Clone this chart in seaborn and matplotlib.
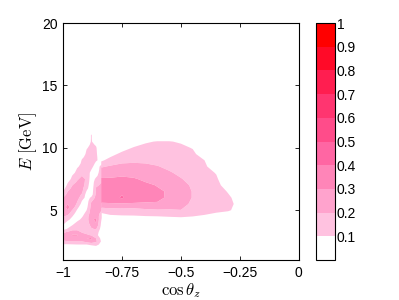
import numpy as np
import matplotlib
matplotlib.use("Agg")
import matplotlib.pyplot as plt
import matplotlib.colors as mcolors
import matplotlib.cm as cm
import seaborn as sns

# probability levels and colours (0-0.1 is left white)
levels = [0, 0.1, 0.2, 0.3, 0.4, 0.5, 0.6, 0.7, 0.8, 0.9, 1.0]
level_colors = ["#FFFFFF", "#FFC2E0", "#FFA3CD", "#FF85B8", "#FF66A3",
                "#FF4C8A", "#FF3570", "#FF1E50", "#FF0A28", "#FF0000"]

# left part (thin band, gap, foot and neck): one list per cos(theta) column,
# values along E = 2.0, 2.25, ..., 11.75
x_left = [-1.0, -0.98, -0.96, -0.94, -0.92, -0.90, -0.88, -0.86, -0.836]
y_left = [2.0, 2.25, 2.5, 2.75, 3.0, 3.25, 3.5, 3.75, 4.0, 4.25, 4.5, 4.75,
          5.0, 5.25, 5.5, 5.75, 6.0, 6.25, 6.5, 6.75, 7.0, 7.25, 7.5, 7.75,
          8.0, 8.25, 8.5, 8.75, 9.0, 9.25, 9.5, 9.75, 10.0, 10.25, 10.5,
          10.75, 11.0, 11.25, 11.5, 11.75]
col_m100 = [0.02, 0.09, 0.19, 0.22, 0.22, 0.18, 0.06, 0.09, 0.13, 0.17, 0.21,
            0.25, 0.28, 0.27, 0.25, 0.23, 0.20, 0.15, 0.10, 0.05, 0.0] + [0.0] * 19
col_m098 = [0.02, 0.09, 0.20, 0.24, 0.25, 0.21, 0.11, 0.06, 0.07, 0.12, 0.17,
            0.24, 0.30, 0.32, 0.30, 0.27, 0.25, 0.23, 0.20, 0.17, 0.13, 0.09,
            0.03, 0.0] + [0.0] * 16
col_m096 = [0.03, 0.095, 0.20, 0.26, 0.31, 0.25, 0.16, 0.11, 0.06, 0.07, 0.10,
            0.14, 0.19, 0.26, 0.29, 0.28, 0.26, 0.25, 0.23, 0.22, 0.20, 0.17,
            0.14, 0.11, 0.06, 0.0] + [0.0] * 14
col_m094 = [0.03, 0.10, 0.20, 0.26, 0.31, 0.24, 0.17, 0.14, 0.12, 0.07, 0.05,
            0.06, 0.09, 0.13, 0.18, 0.21, 0.23, 0.24, 0.25, 0.24, 0.23, 0.21,
            0.19, 0.16, 0.14, 0.12, 0.08, 0.03, 0.0] + [0.0] * 11
col_m092 = [0.03, 0.10, 0.20, 0.23, 0.24, 0.19, 0.15, 0.14, 0.14, 0.12, 0.09,
            0.06, 0.04, 0.04, 0.07, 0.10, 0.16, 0.19, 0.22, 0.23, 0.24, 0.23,
            0.22, 0.20, 0.17, 0.155, 0.14, 0.125, 0.11, 0.08, 0.04, 0.0] + [0.0] * 8
col_m090 = [0.03, 0.10, 0.24, 0.30, 0.22, 0.16, 0.14, 0.14, 0.15, 0.15, 0.15,
            0.13, 0.10, 0.07, 0.05, 0.04, 0.05, 0.06, 0.09, 0.13, 0.16, 0.18,
            0.19, 0.19, 0.18, 0.17, 0.16, 0.15, 0.14, 0.13, 0.12, 0.11, 0.09,
            0.06, 0.02, 0.0] + [0.0] * 4
col_m088 = [0.04, 0.12, 0.28, 0.31, 0.19, 0.16, 0.19, 0.22, 0.26, 0.29, 0.28,
            0.25, 0.24, 0.23, 0.22, 0.19, 0.12, 0.05, 0.04, 0.03, 0.02, 0.03,
            0.04, 0.05, 0.06, 0.10, 0.13, 0.15, 0.16, 0.15, 0.15, 0.14, 0.13,
            0.12, 0.11, 0.11, 0.11, 0.08, 0.0, 0.0]
col_m086 = [0.05, 0.14, 0.22, 0.20, 0.13, 0.15, 0.21, 0.27, 0.30, 0.31, 0.29,
            0.27, 0.26, 0.25, 0.24, 0.23, 0.23, 0.22, 0.21, 0.205, 0.19, 0.16,
            0.12, 0.08, 0.06, 0.05, 0.05, 0.08, 0.11, 0.12, 0.12, 0.115, 0.11,
            0.09, 0.04, 0.0] + [0.0] * 4
col_m0836 = [0.02, 0.06, 0.08, 0.06, 0.04, 0.04, 0.05, 0.06, 0.07, 0.09, 0.11,
             0.16, 0.20, 0.22, 0.23, 0.24, 0.24, 0.24, 0.23, 0.22, 0.21, 0.20,
             0.18, 0.16, 0.15, 0.14, 0.13, 0.09, 0.07, 0.03] + [0.0] * 10
p_left_cols = [col_m100, col_m098, col_m096, col_m094, col_m092,
               col_m090, col_m088, col_m086, col_m0836]

# right part (the big lobe), one row per energy
x_right = [-0.838, -0.8, -0.75, -0.7, -0.65, -0.6, -0.55, -0.5,
           -0.45, -0.4, -0.35, -0.3, -0.25, -0.2]
y_right = [4.0, 4.5, 5.0, 5.5, 6.0, 6.5, 7.0, 7.5, 8.0, 8.5, 9.0, 9.5,
           10.0, 10.5, 11.0, 11.5]
p_right = [
    [0.00, 0.00, 0.00, 0.00, 0.01, 0.02, 0.02, 0.03, 0.02, 0.01, 0.00, 0.00, 0.00, 0.00],
    [0.05, 0.08, 0.09, 0.09, 0.095, 0.098, 0.105, 0.11, 0.10, 0.09, 0.07, 0.05, 0.02, 0.00],
    [0.14, 0.16, 0.15, 0.16, 0.18, 0.19, 0.19, 0.198, 0.15, 0.13, 0.12, 0.11, 0.07, 0.00],
    [0.29, 0.29, 0.29, 0.29, 0.29, 0.29, 0.26, 0.235, 0.18, 0.15, 0.135, 0.118, 0.08, 0.00],
    [0.34, 0.36, 0.41, 0.35, 0.33, 0.32, 0.285, 0.25, 0.195, 0.16, 0.14, 0.112, 0.07, 0.00],
    [0.35, 0.37, 0.385, 0.37, 0.34, 0.315, 0.29, 0.25, 0.195, 0.16, 0.135, 0.095, 0.05, 0.00],
    [0.33, 0.35, 0.36, 0.35, 0.32, 0.295, 0.275, 0.235, 0.185, 0.155, 0.125, 0.06, 0.02, 0.00],
    [0.31, 0.31, 0.32, 0.31, 0.28, 0.26, 0.245, 0.205, 0.17, 0.145, 0.112, 0.03, 0.00, 0.00],
    [0.25, 0.26, 0.27, 0.26, 0.25, 0.235, 0.21, 0.18, 0.155, 0.13, 0.095, 0.00, 0.00, 0.00],
    [0.19, 0.21, 0.23, 0.23, 0.22, 0.205, 0.18, 0.16, 0.14, 0.115, 0.05, 0.00, 0.00, 0.00],
    [0.08, 0.14, 0.17, 0.18, 0.18, 0.17, 0.16, 0.145, 0.13, 0.10, 0.01, 0.00, 0.00, 0.00],
    [0.00, 0.06, 0.13, 0.15, 0.15, 0.15, 0.145, 0.135, 0.12, 0.05, 0.00, 0.00, 0.00, 0.00],
    [0.00, 0.00, 0.05, 0.11, 0.125, 0.13, 0.13, 0.12, 0.095, 0.00, 0.00, 0.00, 0.00, 0.00],
    [0.00, 0.00, 0.00, 0.03, 0.09, 0.105, 0.105, 0.09, 0.02, 0.00, 0.00, 0.00, 0.00, 0.00],
    [0.00, 0.00, 0.00, 0.00, 0.00, 0.02, 0.02, 0.00, 0.00, 0.00, 0.00, 0.00, 0.00, 0.00],
    [0.00, 0.00, 0.00, 0.00, 0.00, 0.00, 0.00, 0.00, 0.00, 0.00, 0.00, 0.00, 0.00, 0.00],
]

cbar_ticks = [0.1, 0.2, 0.3, 0.4, 0.5, 0.6, 0.7, 0.8, 0.9, 1.0]
cbar_labels = ["0.1", "0.2", "0.3", "0.4", "0.5", "0.6", "0.7", "0.8", "0.9", "1"]

sns.set_style("ticks")
plt.rcParams["font.family"] = ["Liberation Sans", "DejaVu Sans"]
plt.rcParams["mathtext.fontset"] = "cm"
plt.rcParams["xtick.direction"] = "in"
plt.rcParams["ytick.direction"] = "in"
plt.rcParams["axes.edgecolor"] = "black"
plt.rcParams["xtick.color"] = "black"
plt.rcParams["ytick.color"] = "black"
plt.rcParams["text.color"] = "black"
plt.rcParams["axes.labelcolor"] = "black"

fig = plt.figure(figsize=(3.99, 3.0), dpi=100)
ax = fig.add_axes([0.158, 0.133, 0.591, 0.79])
cax = fig.add_axes([0.792, 0.133, 0.048, 0.79])

cmap = mcolors.ListedColormap(level_colors)
norm = mcolors.BoundaryNorm(levels, cmap.N)

ax.contourf(x_left, y_left, np.array(p_left_cols).T, levels=levels[1:],
            colors=level_colors[1:], antialiased=True)
ax.contourf(x_right, y_right, np.array(p_right), levels=levels[1:],
            colors=level_colors[1:], antialiased=True)

ax.set_xlim(-1, 0)
ax.set_ylim(1, 20)
ax.set_xticks([-1, -0.75, -0.5, -0.25, 0])
ax.set_xticklabels(["\u22121", "\u22120.75", "\u22120.5", "\u22120.25", "0"])
ax.set_yticks([5, 10, 15, 20])
ax.tick_params(labelsize=10, length=3, width=0.6, top=True, right=True, pad=4)
for s in ax.spines.values():
    s.set_linewidth(0.8)
ax.set_xlabel(r"$\cos\theta_z$", fontsize=12, labelpad=1)
ax.set_ylabel(r"$E\ [\mathrm{GeV}]$", fontsize=12, labelpad=2)

cb = fig.colorbar(cm.ScalarMappable(norm=norm, cmap=cmap), cax=cax,
                  ticks=cbar_ticks)
cb.ax.set_yticklabels(cbar_labels)
cb.ax.tick_params(labelsize=10, length=2, width=0.6, direction="in", pad=1)
cb.outline.set_linewidth(0.8)

fig.savefig("out.png", dpi=100)
